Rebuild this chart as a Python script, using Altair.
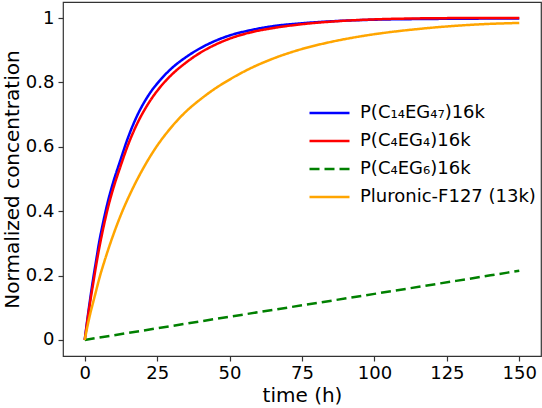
import altair as alt
import pandas as pd

series_names = ["P(C₁₄EG₄₇)16k", "P(C₄EG₄)16k", "P(C₄EG₆)16k", "Pluronic-F127 (13k)"]
series_colors = ["#0000ff", "#ff0000", "#008000", "#ffa500"]
series_dash = [[1, 0], [1, 0], [10, 5], [1, 0]]

blue_t = [0, 1, 2, 3, 4, 5, 6, 8, 10, 12, 15, 18, 22, 26, 30, 35, 40, 45, 50, 57, 65, 75, 85, 100, 115, 130, 150]
blue_y = [0, 0.07, 0.135, 0.195, 0.25, 0.305, 0.35, 0.43, 0.495, 0.55, 0.63, 0.695, 0.76, 0.807, 0.844, 0.879,
          0.907, 0.929, 0.946, 0.962, 0.975, 0.984, 0.99, 0.995, 0.997, 0.998, 0.999]

red_t = [0, 1, 2, 3, 4, 5, 6, 8, 10, 12, 15, 18, 22, 26, 30, 35, 40, 45, 50, 57, 65, 75, 85, 100, 115, 130, 150]
red_y = [0, 0.065, 0.125, 0.18, 0.235, 0.285, 0.33, 0.41, 0.475, 0.53, 0.607, 0.67, 0.735, 0.785, 0.824, 0.862,
         0.893, 0.917, 0.936, 0.955, 0.969, 0.981, 0.989, 0.996, 0.999, 1.0, 1.0]

green_t = [0, 50, 100, 150]
green_y = [0, 0.072, 0.143, 0.215]

orange_t = [0, 1, 2, 3, 4, 5, 7, 10, 13, 16, 20, 24, 30, 35, 40, 45, 50, 57, 65, 75, 85, 95, 105, 115, 125, 135, 150]
orange_y = [0, 0.045, 0.085, 0.12, 0.155, 0.19, 0.25, 0.33, 0.40, 0.46, 0.53, 0.59, 0.662, 0.71, 0.748, 0.781,
            0.809, 0.843, 0.874, 0.904, 0.926, 0.943, 0.956, 0.966, 0.974, 0.98, 0.985]

x_ticks = [0, 25, 50, 75, 100, 125, 150]
y_ticks = [0, 0.2, 0.4, 0.6, 0.8, 1.0]

frames = []
for name, ts, ys in zip(series_names, [blue_t, red_t, green_t, orange_t], [blue_y, red_y, green_y, orange_y]):
    frames.append(pd.DataFrame({"t": ts, "c": ys, "series": name}))
df = pd.concat(frames, ignore_index=True)

FONT = "DejaVu Sans"

legend_opts = dict(
    title=None,
    orient="none",
    legendX=245,
    legendY=100,
    symbolType="stroke",
    symbolSize=1600,
    symbolStrokeWidth=2.5,
    clipHeight=22,
    rowPadding=6,
    labelOffset=9,
    labelFont=FONT,
    labelFontSize=18,
    labelColor="black",
    labelLimit=400,
    padding=0,
)

color = alt.Color(
    "series:N",
    scale=alt.Scale(domain=series_names, range=series_colors),
    legend=alt.Legend(**legend_opts),
)
dash = alt.StrokeDash(
    "series:N",
    scale=alt.Scale(domain=series_names, range=series_dash),
    legend=alt.Legend(**legend_opts),
)

x_enc = alt.X(
    "t:Q",
    scale=alt.Scale(domain=[-7.5, 157.5], nice=False, zero=False),
    axis=alt.Axis(values=x_ticks, title="time (h)", labelFlush=False),
)
y_enc = alt.Y(
    "c:Q",
    scale=alt.Scale(domain=[-0.05, 1.05], nice=False, zero=False),
    axis=alt.Axis(
        values=y_ticks,
        title="Normalized concentration",
        labelExpr="datum.value == 0 ? '0' : datum.value == 1 ? '1' : format(datum.value, '.1f')",
    ),
)

layers = []
for name in series_names:
    layers.append(
        alt.Chart(df)
        .transform_filter(alt.datum.series == name)
        .mark_line(strokeWidth=2.5, clip=True, interpolate="monotone")
        .encode(x=x_enc, y=y_enc, color=color, strokeDash=dash, order=alt.Order("t:Q"))
    )

chart = (
    alt.layer(*layers)
    .properties(
        width=478,
        height=354,
        autosize=alt.AutoSizeParams(type="none"),
        padding={"left": 63, "top": 2, "right": 1, "bottom": 52},
        background="white",
    )
    .configure_view(stroke="#333333", strokeWidth=1.2)
    .configure_axis(
        grid=False,
        domain=False,
        tickSize=5,
        tickColor="#333333",
        tickWidth=1.2,
        labelFont=FONT,
        labelFontSize=18,
        labelColor="black",
        labelPadding=3,
        titleFont=FONT,
        titleFontSize=20,
        titleFontWeight="normal",
        titleColor="black",
    )
    .configure_axisX(titlePadding=3)
    .configure_axisY(titlePadding=3, labelPadding=4)
)

chart.save("out.html", embed_options={"renderer": "svg", "actions": False})
